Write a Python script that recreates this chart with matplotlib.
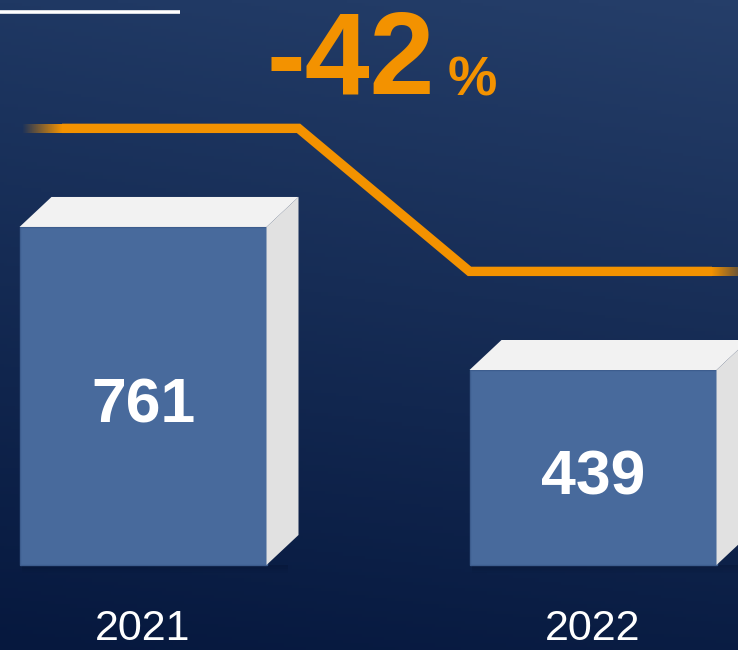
import numpy as np
import matplotlib.pyplot as plt
from matplotlib.patches import Polygon, Rectangle
from matplotlib.colors import to_rgb

years = ['2021', '2022']
values = [761, 439]
change_label = '-42'

W, H = 738, 650
k = 0.4442            # pixels per unit of value
base_px = 565         # baseline pixel row
px_x = 450.0          # pixels between bar centres
x0_px = 143.0

fig = plt.figure(figsize=(W / 100, H / 100), dpi=100)
ax = fig.add_axes([0, 0, 1, 1])
xlim = (-x0_px / px_x, (W - x0_px) / px_x)
ylim = (-(H - base_px) / k, base_px / k)
ax.set_xlim(*xlim)
ax.set_ylim(*ylim)
ax.axis('off')

# background gradient
yy, xx = np.mgrid[0:1:200j, 0:1:200j]
top = np.array([0x1f, 0x38, 0x63]) / 255
bot = np.array([0x06, 0x18, 0x3e]) / 255
t = np.clip(yy * 0.85 + (1 - xx) * 0.15 * yy, 0, 1)[..., None]
bg = top * (1 - t) + bot * t
bg = bg + (xx[..., None] * (1 - yy[..., None])) * 0.025
ax.imshow(bg, extent=(xlim[0], xlim[1], ylim[0], ylim[1]), aspect='auto',
          origin='upper', zorder=0)

bw = 247 / px_x
dx = 32 / px_x
dy = 30 / k
front_c = '#486a9c'
top_c = '#f2f2f2'
side_c = '#e1e1e1'

for i, v in enumerate(values):
    l, r = i - bw / 2, i + bw / 2
    # soft shadow under the bar
    for j in range(8):
        ax.add_patch(Rectangle((l + 0.005, -(j + 1) * 2.2), bw + dx * 0.6, 2.2,
                               facecolor='#000818', alpha=0.18 * (1 - j / 8),
                               edgecolor='none', zorder=1))
    ax.add_patch(Rectangle((l, 0), bw, v, facecolor=front_c,
                           edgecolor='#3d5d8e', linewidth=1, zorder=3))
    ax.add_patch(Polygon([(l, v), (l + dx, v + dy), (r + dx, v + dy), (r, v)],
                         closed=True, facecolor=top_c, edgecolor='none', zorder=3))
    ax.add_patch(Polygon([(r, 0), (r, v), (r + dx, v + dy), (r + dx, dy)],
                         closed=True, facecolor=side_c, edgecolor='none', zorder=3))
    ax.text(i, v / 2 - 27 / k, str(v), ha='center', va='baseline', color='white',
            fontsize=45, fontweight='bold', family='Liberation Sans', zorder=4)
    ax.text(i, -(640 - base_px) / k, years[i], ha='center', va='baseline',
            color='white', fontsize=31, family='Liberation Sans', zorder=4)

# orange trend line above the bars
off = 222
lvl = [v + off for v in values]
orange = '#f39200'
lw_px = 9
x_start = xlim[0] + 22 / px_x
fade_l = xlim[0] + 62 / px_x
fade_r = xlim[0] + 712 / px_x
lx = [fade_l, 0 + bw / 2 + dx, 1 - bw / 2, fade_r]
ly = [lvl[0], lvl[0], lvl[1], lvl[1]]
ax.plot(lx, ly, color=orange, lw=lw_px * 0.75,
        solid_joinstyle='miter', solid_capstyle='butt', zorder=2)

# faded ends of the line as gradient images
half = lw_px / 2 / k
rgb = np.array(to_rgb(orange))
ramp = np.linspace(0, 1, 100)
img = np.zeros((1, 100, 4))
img[..., :3] = rgb
img[..., 3] = ramp
ax.imshow(img, extent=(x_start, fade_l, lvl[0] - half, lvl[0] + half),
          aspect='auto', zorder=2, interpolation='bilinear')
img_r = img.copy()
img_r[..., 3] = 1 - ramp * 0.6
ax.imshow(img_r, extent=(fade_r, xlim[1], lvl[1] - half, lvl[1] + half),
          aspect='auto', zorder=2, interpolation='bilinear')

# headline
ax.text(xlim[0] + 435 / px_x, (base_px - 93) / k, change_label, ha='right',
        va='baseline', color=orange, fontsize=84, fontweight='bold',
        family='Liberation Sans', zorder=4)
ax.text(xlim[0] + 448 / px_x, (base_px - 95) / k, '%', ha='left',
        va='baseline', color=orange, fontsize=40, fontweight='bold',
        family='Liberation Sans', zorder=4)

# white rule at top left
ax.plot([xlim[0], xlim[0] + 180 / px_x], [(base_px - 12) / k] * 2,
        color='white', lw=2.6, solid_capstyle='butt', zorder=4)

ax.set_xlim(*xlim)
ax.set_ylim(*ylim)
fig.savefig('out.png', dpi=100)
